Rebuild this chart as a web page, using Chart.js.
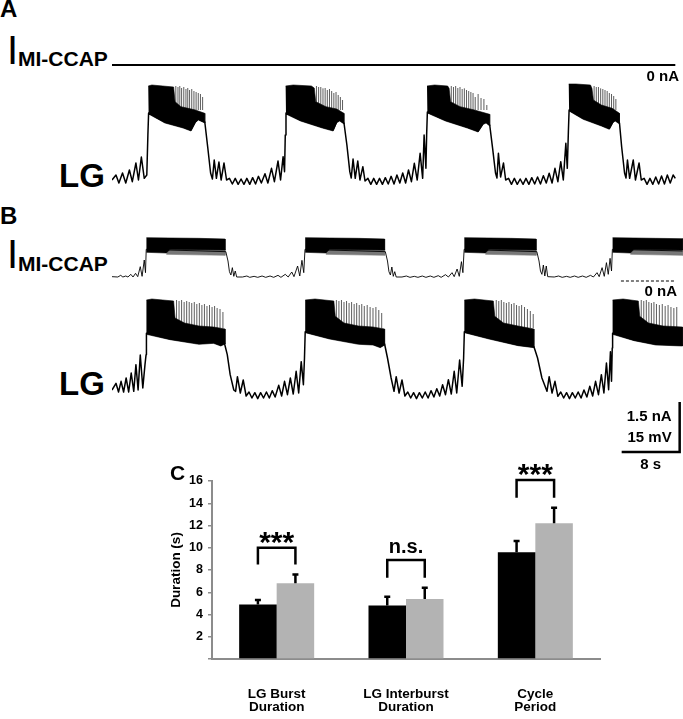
<!DOCTYPE html>
<html>
<head>
<meta charset="utf-8">
<script src="https://cdn.jsdelivr.net/npm/chart.js@4.4.1/dist/chart.umd.min.js"></script>
<style>
  html, body { margin: 0; padding: 0; background: #fff; }
  #fig { position: relative; width: 683px; height: 719px; overflow: hidden; font-family: "Liberation Sans", Arial, sans-serif; color: #000; }
  #fig canvas { position: absolute; }
  .lbl { position: absolute; line-height: 1; font-weight: bold; white-space: nowrap; }
</style>
</head>
<body>
<div id="fig">
  <canvas id="curA" width="571" height="20" style="left:112px;top:55px"></canvas>
  <canvas id="lgA" width="571" height="110" style="left:112px;top:80px"></canvas>
  <canvas id="curB" width="571" height="70" style="left:112px;top:225px"></canvas>
  <canvas id="lgB" width="571" height="180" style="left:112px;top:295px"></canvas>
  <canvas id="bars" width="450" height="279" style="left:160px;top:440px"></canvas>

  <div class="lbl" style="left:0;top:-3px;font-size:24px">A</div>
  <div class="lbl" style="left:7px;top:30px;font-size:40px;font-weight:normal">I</div>
  <div class="lbl" style="left:18px;top:48px;font-size:21px">MI-CCAP</div>
  <div class="lbl" style="right:4px;top:68px;font-size:15px">0 nA</div>
  <div class="lbl" style="left:59px;top:159px;font-size:33px">LG</div>

  <div class="lbl" style="left:0;top:204px;font-size:24px">B</div>
  <div class="lbl" style="left:7px;top:234px;font-size:40px;font-weight:normal">I</div>
  <div class="lbl" style="left:18px;top:253px;font-size:21px">MI-CCAP</div>
  <div class="lbl" style="right:6px;top:283px;font-size:15px">0 nA</div>
  <div class="lbl" style="left:59px;top:367px;font-size:33px">LG</div>

  <div class="lbl" style="left:170px;top:462px;font-size:21px">C</div>
</div>

<script>
// ---- traces: time in s, LG in mV, current in nA ----
const T_MAX = 78.76;

const curAWave = [[0, 0], [77.7, 0]];

const lgAWave = [
  [0,-58.5],[0.55,-57],[0.95,-59.4],[1.45,-56.4],[1.9,-59.4],[2.4,-55.5],[2.8,-59],[3.3,-53.4],[3.65,-58.5],[4.05,-51.6],[4.45,-58],[4.8,-57],[4.95,-45],[5.05,-38.4],
  [7.3,-41.1],[9.8,-42.6],[10.9,-43.5],[11.5,-41],[11.9,-40.2],[12.8,-41.1],[13.2,-48.6],[13.6,-56.4],[13.85,-58.2],
  [14.1,-52.5],[14.4,-58],[14.75,-53.1],[15.05,-58.5],[15.45,-53.4],[15.8,-58.5],[16.2,-58],[16.6,-59.7],[17,-58],[17.4,-59.8],[17.8,-58.2],[18.2,-59.8],[18.6,-58],[19,-59.8],[19.4,-57.8],[19.8,-59.7],[20.2,-57.4],[20.6,-59.4],[21.1,-56.6],[21.5,-59.4],[22,-55],[22.4,-59],[22.9,-52.8],[23.25,-58.5],[23.6,-51.5],[23.8,-56],[23.9,-45],[24,-38.4],
  [26,-40.5],[29,-42.6],[30.5,-43.5],[31,-41],[31.4,-40.5],[32,-41.4],[32.4,-48],[32.8,-56],[33,-57.9],
  [33.25,-52.2],[33.55,-58],[33.9,-52.8],[34.2,-58.5],[34.6,-54.5],[34.9,-58.8],[35.3,-58],[35.7,-59.8],[36.1,-58],[36.5,-59.8],[36.9,-58],[37.3,-59.8],[37.7,-57.8],[38.1,-59.7],[38.5,-57.4],[38.9,-59.7],[39.3,-57],[39.7,-59.4],[40.1,-56.4],[40.5,-59.4],[40.9,-55.5],[41.3,-59],[41.7,-53.5],[42.1,-58.5],[42.5,-50.5],[42.85,-58],[43.05,-45],[43.3,-55],[43.4,-45],[43.5,-38.1],
  [46,-40.5],[49,-42.6],[50.5,-43.8],[51.2,-41.5],[51.6,-41.1],[52.1,-42],[52.5,-49],[52.9,-56.4],[53.1,-57.9],
  [53.3,-50.5],[53.6,-57.6],[54,-53.4],[54.3,-58.5],[54.7,-58],[55.1,-59.8],[55.5,-58],[55.9,-59.8],[56.3,-58.2],[56.7,-59.8],[57.1,-58],[57.5,-59.8],[57.9,-57.8],[58.3,-59.7],[58.7,-57.6],[59.1,-59.7],[59.5,-57.2],[59.9,-59.4],[60.3,-56.5],[60.7,-59.4],[61.1,-55],[61.5,-59],[61.9,-53],[62.25,-58.5],[62.6,-47.5],[62.8,-55],[62.95,-44],[63.05,-37.5],
  [65,-40],[67.5,-42],[68.6,-43],[69.1,-41],[69.4,-40.5],[70,-41.4],[70.3,-48.6],[70.7,-56.4],[70.9,-57.9],
  [71.1,-52.5],[71.4,-58],[71.9,-52.5],[72.2,-58.5],[72.7,-53.4],[73,-58.5],[73.4,-58],[73.8,-59.8],[74.2,-58],[74.6,-59.8],[75,-57.6],[75.4,-59.7],[75.8,-57.3],[76.2,-59.7],[76.6,-57],[77,-59.4],[77.4,-57],[77.7,-58]
];

// dense spiking during each burst: upper edge, then lower edge back
const lgABursts = [
  [[5,-30.3],[5.5,-30],[7,-30.3],[8.5,-30.6],[8.7,-35],[9.5,-36.5],[10.5,-37],[11.5,-37.5],[12.8,-38.5],[12.8,-41.4],[11.9,-40.5],[11.5,-41.3],[10.9,-43.8],[9.8,-42.9],[7.3,-41.4],[5.05,-38.7]],
  [[23.95,-30.3],[25,-30],[27.5,-30.3],[27.9,-30.9],[28.1,-35],[29.5,-36.5],[31,-37.2],[32,-38.5],[32,-41.7],[31.4,-40.8],[31,-41.3],[30.5,-43.8],[29,-42.9],[26,-40.8],[24,-38.7]],
  [[43.45,-30.3],[44.5,-30],[46.3,-30.3],[46.5,-31],[46.7,-35],[48,-36.5],[50,-37.5],[52.1,-38.8],[52.1,-42.3],[51.6,-41.4],[51.2,-41.8],[50.5,-44.1],[49,-42.9],[46,-40.8],[43.5,-38.4]],
  [[63,-29.7],[64,-29.7],[66,-30],[66.2,-31],[66.4,-34.5],[67.5,-36],[69,-37],[70,-38.5],[70,-41.7],[69.4,-40.8],[69.1,-41.3],[68.6,-43.3],[67.5,-42.3],[65,-40.3],[63.05,-37.8]]
];

const lgASpikeBase = -37.5;
const lgASpikes = [
  [8.8,-30.3],[9.1,-30.6],[9.35,-30.3],[9.6,-30.9],[9.9,-30.6],[10.2,-31.2],[10.45,-30.9],[10.7,-31.5],[11,-31.2],[11.3,-31.8],[11.6,-32.1],[11.9,-32.4],[12.2,-32.7],[12.5,-33.6],
  [28.2,-30.3],[28.5,-30.6],[28.8,-30.6],[29.1,-31],[29.4,-30.9],[29.7,-31.5],[30,-31.2],[30.3,-31.8],[30.6,-32.4],[30.9,-32.1],[31.2,-33],[31.5,-33.6],[31.8,-34.5],
  [46.8,-30.3],[47.1,-30.6],[47.4,-30.3],[47.7,-30.9],[48,-30.6],[48.3,-31.2],[48.6,-31],[48.9,-31.5],[49.2,-31.8],[49.5,-32.1],[49.8,-32.4],[50.1,-33.6],[50.5,-32.7],[50.9,-33.9],[51.3,-34.2],[51.7,-36],
  [66.5,-30.3],[66.8,-30.6],[67.1,-30.6],[67.4,-31],[67.7,-31.2],[68,-31.5],[68.3,-31.8],[68.6,-32.4],[68.9,-32.7],[69.2,-33.3],[69.5,-34.2]
];

const curBWave = [
  [0,0.13],[0.8,0.12],[1.2,0.17],[1.5,0.12],[1.9,0.15],[2.2,0.12],[2.6,0.2],[2.9,0.12],[3.25,0.23],[3.55,0.13],[3.9,0.43],[4.15,0.14],[4.45,0.63],[4.62,0.25],[4.72,0.95],
  [15.7,0.88],[16,0.6],[16.2,0.28],[16.4,0.18],[16.6,0.4],[16.8,0.14],[17,0.3],[17.2,0.12],[18,0.12],[18.6,0.15],[19,0.11],[19.6,0.14],[20.1,0.11],[20.7,0.15],[21.2,0.11],[21.8,0.15],[22.3,0.11],[22.9,0.17],[23.3,0.11],[23.9,0.2],[24.3,0.12],[24.8,0.27],[25.1,0.13],[25.6,0.45],[25.9,0.15],[26.2,0.62],[26.45,0.25],[26.62,0.95],
  [37.7,0.88],[38,0.6],[38.2,0.28],[38.4,0.18],[38.6,0.42],[38.8,0.14],[39,0.28],[39.2,0.12],[40,0.12],[40.6,0.15],[41.1,0.11],[41.7,0.14],[42.2,0.11],[42.8,0.15],[43.3,0.11],[43.9,0.15],[44.4,0.11],[45,0.16],[45.4,0.11],[46,0.19],[46.4,0.12],[46.9,0.25],[47.2,0.13],[47.6,0.36],[47.9,0.14],[48.2,0.58],[48.4,0.25],[48.57,0.95],
  [58.6,0.88],[58.9,0.6],[59.1,0.3],[59.3,0.2],[59.5,0.48],[59.7,0.15],[59.9,0.45],[60.1,0.13],[61,0.12],[61.6,0.15],[62.1,0.11],[62.7,0.14],[63.2,0.11],[63.8,0.15],[64.3,0.11],[64.9,0.15],[65.4,0.11],[66,0.17],[66.4,0.12],[66.9,0.25],[67.2,0.13],[67.6,0.4],[67.9,0.14],[68.2,0.55],[68.45,0.2],[68.7,0.68],[68.9,0.3],[69.02,0.95],
  [78.7,0.9]
];

const curBBursts = [
  [[4.75,1.3],[8,1.29],[12,1.28],[15.6,1.26],[15.6,0.93],[12,0.94],[8,0.95],[7.5,0.84],[4.75,0.86]],
  [[26.65,1.3],[30,1.29],[34,1.28],[37.6,1.26],[37.6,0.93],[34,0.94],[30,0.95],[29.5,0.84],[26.65,0.86]],
  [[48.6,1.3],[52,1.29],[55,1.28],[58.5,1.26],[58.5,0.93],[55,0.94],[52,0.95],[51.5,0.84],[48.6,0.86]],
  [[69.05,1.3],[72,1.29],[75,1.28],[78.7,1.27],[78.7,0.93],[75,0.94],[72,0.95],[71.5,0.84],[69.05,0.86]]
];
const curBBurstLow = [
  [[7.5,0.96],[15.6,0.94],[15.6,0.77],[7.5,0.8]],
  [[29.5,0.96],[37.6,0.94],[37.6,0.77],[29.5,0.8]],
  [[51.5,0.96],[58.5,0.94],[58.5,0.77],[51.5,0.8]],
  [[71.5,0.96],[78.7,0.94],[78.7,0.77],[71.5,0.8]]
];
const zeroLineB = [[70.2, 0], [77.7, 0]];

const lgBWave = [
  [0,-57.6],[0.55,-55.6],[0.9,-58.2],[1.25,-55],[1.6,-58.2],[1.95,-54],[2.3,-58.2],[2.65,-52.5],[3,-58],[3.3,-50],[3.6,-57.6],[3.9,-47.1],[4.25,-57],[4.55,-50],[4.7,-47],[4.75,-40.6],
  [8,-42.2],[12,-43.6],[14,-43.3],[15,-44.1],[15.5,-43.5],[15.9,-47],[16.3,-53],[16.8,-57.6],[17.05,-58],
  [17.3,-53.6],[17.7,-58.5],[18.1,-54.6],[18.5,-59.4],[18.9,-58.2],[19.3,-60],[19.7,-58.4],[20.1,-60.2],[20.5,-58.4],[20.9,-60],[21.3,-58.2],[21.7,-60],[22.1,-57.8],[22.5,-59.7],[23,-56.2],[23.4,-59.4],[23.8,-55],[24.2,-59],[24.6,-54],[25,-58.8],[25.4,-52],[25.75,-58.5],[26.1,-49.1],[26.4,-56],[26.55,-48],[26.65,-40.1],
  [30,-42],[34,-43.6],[36,-43.8],[37,-44.6],[37.6,-43.8],[38,-48],[38.5,-54],[38.9,-58],
  [39.2,-53.6],[39.6,-58.5],[40,-54.6],[40.4,-59.4],[40.8,-58.2],[41.2,-60],[41.6,-58.4],[42,-60.2],[42.4,-58.4],[42.8,-60],[43.2,-58.2],[43.6,-60],[44,-57.8],[44.4,-59.7],[44.8,-57.2],[45.2,-59.4],[45.6,-56],[46,-59],[46.4,-54.5],[46.8,-58.8],[47.2,-52],[47.55,-58.5],[47.95,-48.6],[48.3,-56.5],[48.5,-48],[48.6,-40.1],
  [52,-42],[56,-44],[58.2,-44.6],[58.7,-48],[59.3,-54],[60,-58],
  [60.3,-53.6],[60.7,-58.5],[61.1,-55],[61.5,-59.5],[61.9,-58.2],[62.3,-60],[62.7,-58.4],[63.1,-60.2],[63.5,-58.4],[63.9,-60],[64.3,-58.2],[64.7,-60],[65.1,-57.6],[65.5,-59.7],[65.9,-56.5],[66.3,-59.4],[66.7,-55],[67.1,-59],[67.5,-53],[67.85,-58.5],[68.2,-49.5],[68.5,-57.5],[68.75,-46.1],[68.9,-55],[69,-45],[69.05,-40.6],
  [72,-42.5],[75,-43.8],[78.7,-44.1]
];

const lgBBursts = [
  [[4.75,-30.6],[5.5,-30.3],[7,-30.6],[8.5,-30.9],[8.7,-36],[10,-37.5],[12,-38.4],[14,-38.7],[15.6,-39.3],[15.6,-43.8],[15,-44.4],[14,-43.6],[12,-43.9],[8,-42.5],[4.75,-40.9]],
  [[26.65,-30.6],[28,-30.3],[30.6,-30.9],[30.8,-35.5],[32,-37.5],[34,-38.4],[36,-38.7],[37.6,-39.3],[37.6,-44.1],[37,-44.9],[36,-44.1],[34,-43.9],[30,-42.3],[26.65,-40.4]],
  [[48.6,-30.6],[50,-30.3],[52.6,-30.9],[52.8,-35.5],[54,-37.5],[56,-38.4],[58.2,-39.3],[58.2,-44.9],[56,-44.3],[52,-42.3],[48.6,-40.4]],
  [[69.05,-30.6],[70.5,-30.3],[72.6,-30.9],[72.8,-35.5],[74,-37.5],[76,-38.4],[78.7,-38.7],[78.7,-44.4],[75,-44.1],[72,-42.8],[69.05,-40.9]]
];

const lgBSpikeBase = -39;
const lgBSpikes = [
  [8.9,-30.6],[9.25,-30.9],[9.6,-30.6],[9.95,-31.2],[10.3,-30.9],[10.65,-31.2],[11,-31.5],[11.35,-31.2],[11.7,-31.8],[12.05,-31.5],[12.4,-32.1],[12.75,-31.8],[13.1,-32.4],[13.45,-32.1],[13.8,-32.7],[14.15,-32.4],[14.5,-33],[14.9,-33.3],[15.3,-34.2],
  [30.95,-30.6],[31.3,-30.9],[31.65,-30.6],[32,-31.2],[32.35,-30.9],[32.7,-31.5],[33.05,-31.2],[33.4,-31.8],[33.75,-31.5],[34.1,-32.1],[34.45,-31.8],[34.8,-32.4],[35.2,-32.1],[35.6,-32.7],[36,-33],[36.4,-32.7],[36.8,-33.6],[37.2,-34.5],
  [53,-30.6],[53.35,-30.9],[53.7,-30.6],[54.05,-31.2],[54.4,-31.5],[54.75,-31.2],[55.1,-31.8],[55.45,-31.5],[55.8,-32.1],[56.15,-32.4],[56.5,-32.1],[56.9,-32.7],[57.3,-33.3],[57.7,-33.9],[58.1,-34.8],
  [73,-30.6],[73.35,-30.9],[73.7,-30.6],[74.05,-31.2],[74.4,-31.5],[74.75,-31.2],[75.1,-31.8],[75.5,-32.1],[75.9,-31.8],[76.3,-32.4],[76.7,-32.1],[77.1,-32.7],[77.5,-33],[77.9,-32.7]
];

// scale bar: 8 s, 15 mV / 1.5 nA
const scaleBarEnd = 78.3;
const scaleBarSeconds = 8;
const scaleBarMillivolts = 15;
const scaleBarBase = -76.2;

// ---- panel C ----
const categories = [["LG Burst", "Duration"], ["LG Interburst", "Duration"], ["Cycle", "Period"]];
const controlMeans = [4.9, 4.8, 9.6];
const controlErr = [0.4, 0.8, 1.0];
const ccapMeans = [6.8, 5.4, 12.2];
const ccapErr = [0.8, 1.0, 1.4];
const bracketTop = [10.0, 8.9, 16.1];
const bracketBottom = [8.5, 7.3, 14.5];
const sigLabels = ["***", "n.s.", "***"];

Chart.defaults.font.family = '"Liberation Sans", Arial, sans-serif';
Chart.defaults.color = "#000";

const toXY = (arr) => arr.map(([x, y]) => ({ x, y }));

const spikeLine = (spikes, base) => {
  const pts = [];
  for (const [t, top] of spikes) {
    pts.push({ x: t, y: base }, { x: t, y: top }, { x: t, y: null });
  }
  return pts;
};

const waveSet = (arr, width) => ({
  data: toXY(arr), borderColor: "#000", borderWidth: width, fill: false,
});

const shapeSet = (arr, color) => ({
  data: toXY(arr), borderColor: color, borderWidth: 0.6, backgroundColor: color, fill: "shape",
});

function makeTrace(id, datasets, yMin, yMax, plugins = []) {
  return new Chart(document.getElementById(id), {
    type: "line",
    data: { datasets },
    options: {
      responsive: false,
      animation: false,
      devicePixelRatio: 1,
      events: [],
      layout: { padding: 0 },
      elements: { point: { radius: 0 }, line: { tension: 0, borderJoinStyle: "round" } },
      plugins: { legend: { display: false }, tooltip: { enabled: false } },
      scales: {
        x: { type: "linear", min: 0, max: T_MAX, display: false },
        y: { type: "linear", min: yMin, max: yMax, display: false },
      },
    },
    plugins,
  });
}

const scaleBarPlugin = {
  id: "scaleBar",
  afterDraw(chart) {
    const { ctx, scales: { x, y } } = chart;
    const x1 = x.getPixelForValue(scaleBarEnd - scaleBarSeconds);
    const x2 = x.getPixelForValue(scaleBarEnd);
    const y0 = y.getPixelForValue(scaleBarBase);
    const y1 = y.getPixelForValue(scaleBarBase + scaleBarMillivolts);
    ctx.save();
    ctx.strokeStyle = "#000";
    ctx.lineWidth = 2.5;
    ctx.beginPath();
    ctx.moveTo(x1, y0);
    ctx.lineTo(x2, y0);
    ctx.lineTo(x2, y1);
    ctx.stroke();
    ctx.fillStyle = "#000";
    ctx.font = 'bold 15px "Liberation Sans", Arial, sans-serif';
    ctx.textAlign = "right";
    ctx.fillText("1.5 nA", x2 - 8, y1 + 19);
    ctx.fillText("15 mV", x2 - 8, y1 + 40);
    ctx.textAlign = "center";
    ctx.fillText("8 s", (x1 + x2) / 2, y0 + 17);
    ctx.restore();
  },
};

makeTrace("curA", [waveSet(curAWave, 2.2)], -0.3, 0.3);

makeTrace("lgA", [
  waveSet(lgAWave, 1.5),
  ...lgABursts.map((b) => shapeSet(b, "#000")),
  { data: spikeLine(lgASpikes, lgASpikeBase), borderColor: "#333", borderWidth: 0.8, fill: false },
], -61.5, -28.5);

makeTrace("curB", [
  waveSet(curBWave, 0.9),
  ...curBBursts.map((b) => shapeSet(b, "#000")),
  ...curBBurstLow.map((b) => shapeSet(b, "#777")),
  { data: toXY(zeroLineB), borderColor: "#000", borderWidth: 1, borderDash: [3, 2], fill: false },
], -0.42, 1.68);

makeTrace("lgB", [
  waveSet(lgBWave, 1.5),
  ...lgBBursts.map((b) => shapeSet(b, "#000")),
  { data: spikeLine(lgBSpikes, lgBSpikeBase), borderColor: "#333", borderWidth: 0.8, fill: false },
], -83.1, -29.1, [scaleBarPlugin]);

const errorBarPlugin = {
  id: "errorBars",
  afterDatasetsDraw(chart) {
    const { ctx, scales: { y } } = chart;
    const errs = [controlErr, ccapErr];
    const means = [controlMeans, ccapMeans];
    ctx.save();
    ctx.strokeStyle = "#000";
    ctx.lineWidth = 2.5;
    errs.forEach((err, i) => {
      chart.getDatasetMeta(i).data.forEach((bar, j) => {
        const top = y.getPixelForValue(means[i][j] + err[j]);
        ctx.beginPath();
        ctx.moveTo(bar.x, bar.y);
        ctx.lineTo(bar.x, top);
        ctx.moveTo(bar.x - 3, top);
        ctx.lineTo(bar.x + 3, top);
        ctx.stroke();
      });
    });

    const m0 = chart.getDatasetMeta(0).data;
    const m1 = chart.getDatasetMeta(1).data;
    sigLabels.forEach((label, j) => {
      const x1 = m0[j].x;
      const x2 = m1[j].x;
      const yt = y.getPixelForValue(bracketTop[j]);
      const yb = y.getPixelForValue(bracketBottom[j]);
      ctx.beginPath();
      ctx.moveTo(x1, yb);
      ctx.lineTo(x1, yt);
      ctx.lineTo(x2, yt);
      ctx.lineTo(x2, yb);
      ctx.stroke();
      ctx.fillStyle = "#000";
      ctx.textAlign = "center";
      if (label === "***") {
        ctx.font = 'bold 30px "Liberation Sans", Arial, sans-serif';
        ctx.fillText(label, (x1 + x2) / 2, yt + 4);
      } else {
        ctx.font = 'bold 20px "Liberation Sans", Arial, sans-serif';
        ctx.fillText(label, (x1 + x2) / 2, yt - 7);
      }
    });
    ctx.restore();
  },
};

new Chart(document.getElementById("bars"), {
  type: "bar",
  data: {
    labels: categories,
    datasets: [
      { label: "Control", data: controlMeans, backgroundColor: "#000" },
      { label: "MI-CCAP", data: ccapMeans, backgroundColor: "#b3b3b3" },
    ],
  },
  options: {
    responsive: false,
    animation: false,
    devicePixelRatio: 1,
    events: [],
    layout: { padding: { top: 41, right: 10, left: 0, bottom: 0 } },
    datasets: { bar: { barPercentage: 1, categoryPercentage: 0.58 } },
    plugins: { legend: { display: false }, tooltip: { enabled: false } },
    scales: {
      x: {
        grid: { display: false },
        border: { color: "#8c8c8c", width: 2 },
        ticks: { font: { size: 13.5, weight: "bold", lineHeight: 0.95 }, padding: 21, color: "#000" },
        afterFit(scale) { scale.height = 60; },
      },
      y: {
        min: 0,
        max: 16,
        ticks: {
          stepSize: 2,
          padding: 5,
          color: "#000",
          font: { size: 12.5, weight: "bold" },
          callback: (v) => (v === 0 ? "" : v),
        },
        grid: { drawOnChartArea: false, tickLength: 4, color: "#8c8c8c", lineWidth: 1.5 },
        border: { color: "#8c8c8c", width: 2 },
        title: { display: true, text: "Duration (s)", font: { size: 13.5, weight: "bold" }, padding: { top: 8, bottom: 0 } },
        afterFit(scale) { scale.width = 52; },
      },
    },
  },
  plugins: [errorBarPlugin],
});
</script>
</body>
</html>
